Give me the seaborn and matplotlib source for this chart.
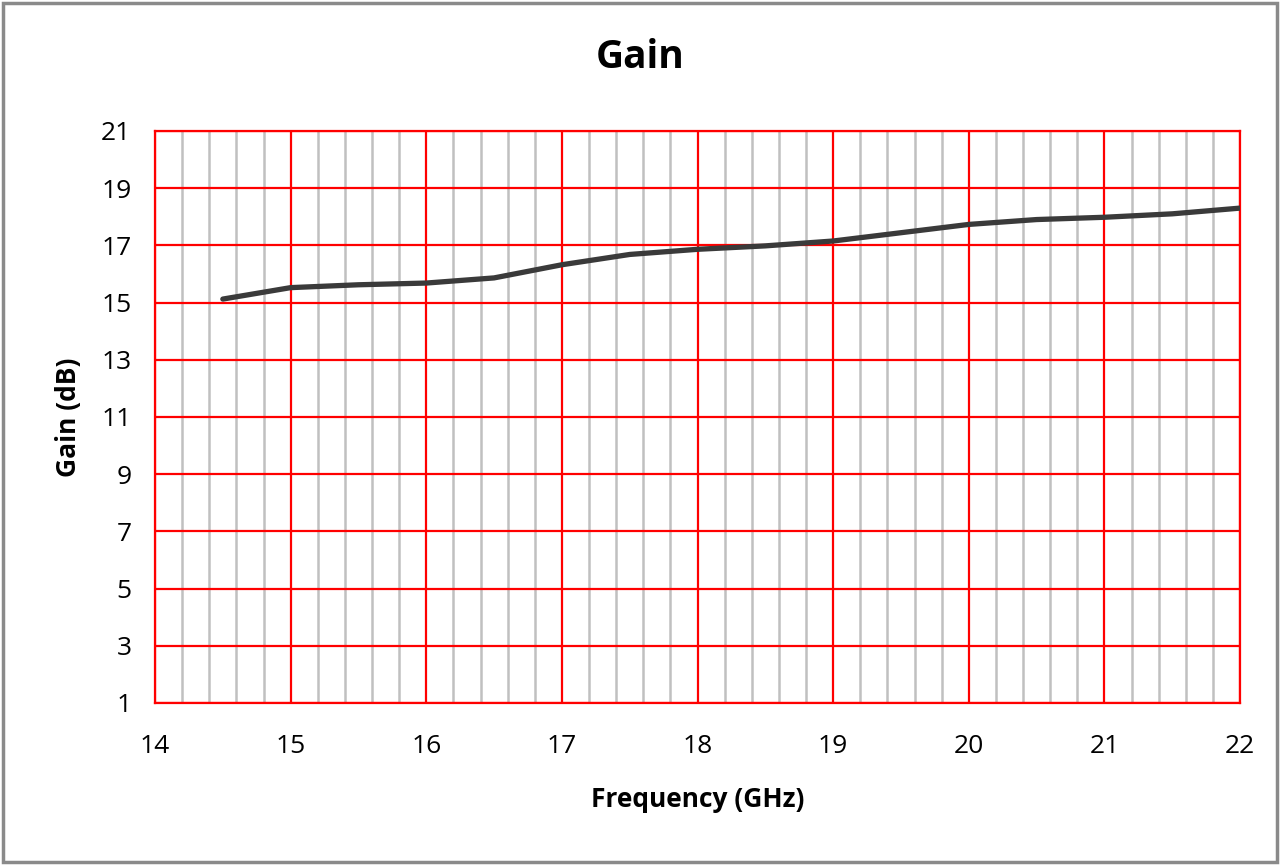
# plot.py
# Gain vs frequency line chart, Excel-style red/grey grid.

import numpy as np
import pandas as pd
import seaborn as sns
import matplotlib.pyplot as plt
from matplotlib.ticker import MultipleLocator
from matplotlib.patches import Rectangle

# --- data ---
freq_ghz = [14.5, 15.0, 15.5, 16.0, 16.5, 17.0, 17.5, 18.0,
            18.5, 19.0, 19.5, 20.0, 20.5, 21.0, 21.5, 22.0]
gain_db = [15.12, 15.52, 15.62, 15.68, 15.86, 16.32, 16.68, 16.86,
           16.98, 17.15, 17.44, 17.73, 17.90, 17.98, 18.10, 18.30]
x_ticks = [14, 15, 16, 17, 18, 19, 20, 21, 22]
y_ticks = [1, 3, 5, 7, 9, 11, 13, 15, 17, 19, 21]

df = pd.DataFrame({"Frequency": freq_ghz, "Gain": gain_db})

sns.set_style("white")
plt.rcParams["font.family"] = ["Open Sans", "DejaVu Sans"]
plt.rcParams["text.color"] = "black"

fig = plt.figure(figsize=(12.8, 8.65), dpi=100)
ax = fig.add_axes([0.1211, 0.1873, 0.8477, 0.6614])

# grid: grey minor verticals, red majors
ax.xaxis.set_minor_locator(MultipleLocator(0.2))
ax.grid(which="minor", axis="x", color="#c0c0c0", linewidth=1.8, zorder=0)
ax.grid(which="major", axis="both", color="#ff0000", linewidth=1.6, zorder=1)
ax.set_axisbelow(True)

sns.lineplot(data=df, x="Frequency", y="Gain", ax=ax,
             color="#3a3a3a", linewidth=3.8, zorder=3)
for ln in ax.get_lines():
    ln.set_solid_joinstyle("round")
    ln.set_solid_capstyle("round")

ax.set_xlim(14, 22)
ax.set_ylim(1, 21)
ax.set_xticks(x_ticks)
ax.set_yticks(y_ticks)
ax.tick_params(which="both", length=0, labelsize=19, colors="black")
ax.tick_params(axis="x", pad=22)
ax.tick_params(axis="y", pad=17)

for s in ax.spines.values():
    s.set_color("#ff0000")
    s.set_linewidth(1.6)

ax.set_xlabel("Frequency (GHz)", fontsize=19, fontweight="bold",
              color="black", labelpad=20)
ax.set_ylabel("Gain (dB)", fontsize=19, fontweight="bold",
              color="black", labelpad=14)
fig.text(0.5, 1 - 57 / 865, "Gain", ha="center", va="center",
         fontsize=28, fontweight="bold", color="black")

# grey frame round the whole chart
fig.patches.append(Rectangle((0.002, 0.003), 0.996, 0.994, transform=fig.transFigure,
                             fill=False, edgecolor="#8a8a8a", linewidth=2.5))

fig.savefig("out.png", dpi=100, facecolor="white")
